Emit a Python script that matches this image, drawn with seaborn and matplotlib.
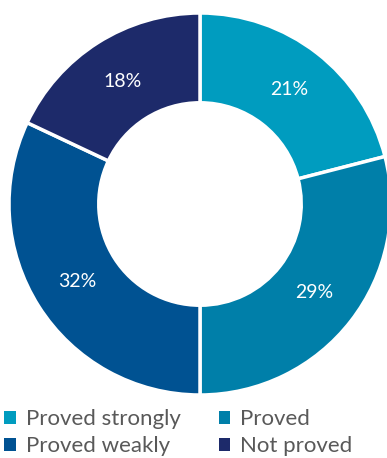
import matplotlib
matplotlib.use("Agg")
import matplotlib.pyplot as plt
import seaborn as sns

categories = ["Proved strongly", "Proved", "Proved weakly", "Not proved"]
values = [21, 29, 32, 18]
colors = ["#009cbf", "#007fa9", "#005292", "#1d2a6a"]

sns.set_theme(style="white")
plt.rcParams['font.family'] = ['Lato', 'DejaVu Sans']

W, H = 387, 458
fig = plt.figure(figsize=(W / 100, H / 100), dpi=100)
cx, cy, r = 200, 204, 191
ax = fig.add_axes([(cx - r) / W, (H - cy - r) / H, 2 * r / W, 2 * r / H])

wedges, texts, autotexts = ax.pie(
    values, colors=colors, startangle=90, counterclock=False,
    autopct=lambda p: f"{p:.0f}%", pctdistance=0.76,
    wedgeprops=dict(width=0.47, edgecolor="white", linewidth=2.5),
    textprops=dict(color="white", fontsize=14),
)
ax.set_xlim(-1, 1)
ax.set_ylim(-1, 1)
ax.set_aspect("equal")
ax.axis("off")

order = [0, 2, 1, 3]
leg = fig.legend(
    [wedges[i] for i in order], [categories[i] for i in order], ncol=2, loc="upper left",
    bbox_to_anchor=(0.0, 1 - 405 / H), frameon=False,
    fontsize=16, handlelength=0.5, handleheight=0.5, handletextpad=0.45,
    columnspacing=1.75, labelspacing=0.3, borderaxespad=0, borderpad=0.2,
    labelcolor="#595959",
)
for h in leg.legend_handles:
    h.set_edgecolor("none")

fig.savefig("out.png", dpi=100)
